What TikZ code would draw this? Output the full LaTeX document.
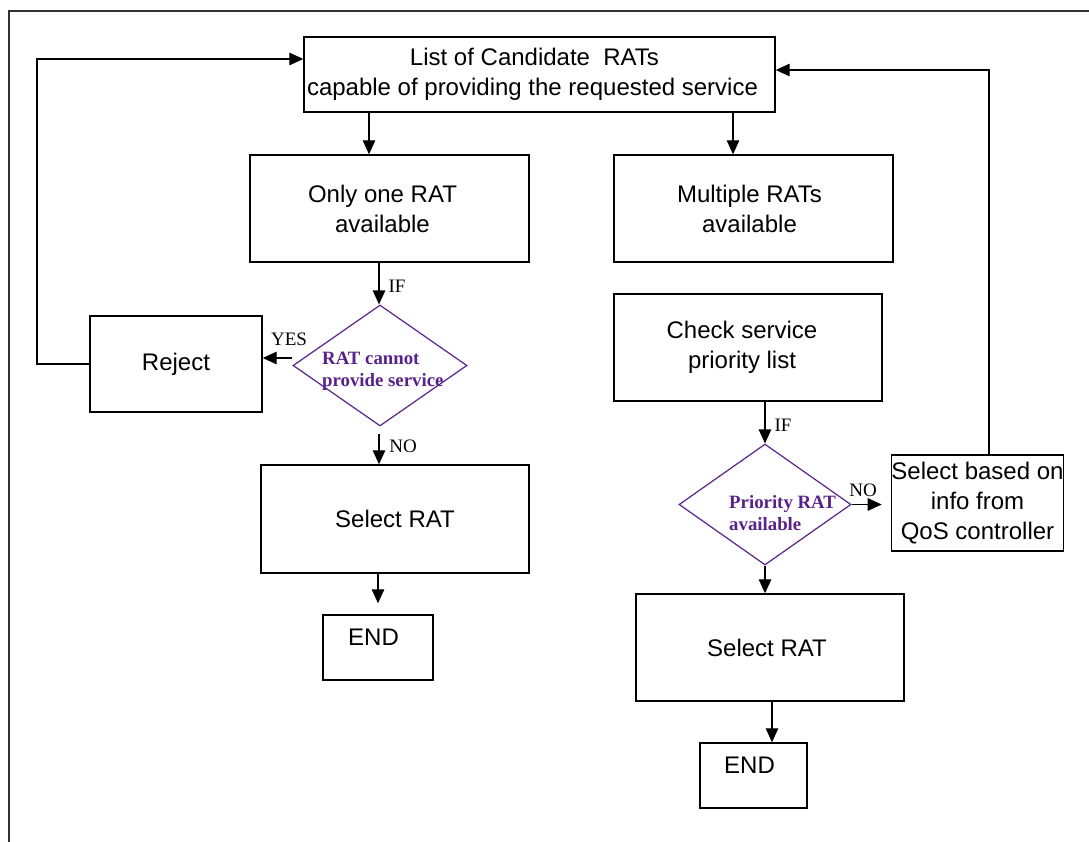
\documentclass[tikz,border=0pt]{standalone}
\usepackage{fontspec}
\setmainfont{Liberation Sans}
\newfontfamily\tms{Liberation Serif}
\usetikzlibrary{arrows.meta,shapes.geometric}
\definecolor{decpurple}{RGB}{88,34,138}
\definecolor{framegray}{RGB}{50,50,50}
\tikzset{
  box/.style={draw=black, line width=1.4pt, rectangle, inner sep=0pt, align=center,
              font=\fontsize{24}{30}\selectfont},
  endbox/.style={box, minimum width=#1, text height=30.7pt, text depth=34.3pt},
  dia/.style={draw=decpurple, line width=1.2pt, diamond, inner sep=0pt,
              minimum width=#1, minimum height=121pt},
  dtext/.style={text=decpurple, align=left, inner sep=0pt,
                font=\tms\bfseries\fontsize{18.8}{22}\selectfont},
  lbl/.style={inner sep=0pt, font=\tms\fontsize{19}{20}\selectfont},
  arr/.style={draw=black, line width=1.3pt, -{Triangle[length=14pt,width=12.5pt]}},
  link/.style={draw=black, line width=1.3pt}
}
\begin{document}
\begin{tikzpicture}[x=1pt,y=-1pt]
\useasboundingbox (0,0) rectangle (1089,842);

% outer frame
\draw[framegray, line width=1.5pt] (1089,11) -- (9,11) -- (9,842);

% process boxes
\node[box, minimum width=471pt, minimum height=75pt] (top) at (539.5,74.5)
  {List of Candidate\ \ RATs\hspace*{10pt}\\capable of providing the requested service\hspace*{14pt}};
\node[box, minimum width=279pt, minimum height=107pt] (one) at (389.5,208.5)
  {Only one RAT\hspace*{14pt}\\available\hspace*{14pt}};
\node[box, minimum width=279pt, minimum height=107pt] (multi) at (753.5,208.5)
  {Multiple RATs\hspace*{8pt}\\available\hspace*{8pt}};
\node[box, minimum width=172pt, minimum height=96pt] (reject) at (176,364) {Reject};
\node[box, minimum width=268pt, minimum height=108pt] (selA) at (395,519) {Select RAT};
\node[endbox=110pt] (endA) at (378,647.5) {END\hspace*{9pt}};
\node[box, minimum width=268pt, minimum height=107pt] (check) at (748,347.5)
  {Check service\hspace*{12pt}\\priority list\hspace*{12pt}};
\node[box, minimum width=171pt, minimum height=96pt] (qos) at (977.5,503)
  {Select based on\\info from\\QoS controller};
\node[box, minimum width=268pt, minimum height=107pt] (selB) at (770,647.5) {Select RAT\hspace*{6pt}};
\node[endbox=107pt] (endB) at (753.5,775.5) {END\hspace*{8pt}};

% decisions
\node[dia=174pt] (d1) at (380,365.5) {};
\node[dtext, anchor=west] (d1t) at (322,371) {RAT cannot\\provide service};
\node[dia=172pt] (d2) at (765,504.5) {};
\node[dtext, anchor=west] (d2t) at (729,513) {Priority RAT\\available};

% connectors, left branch
\draw[arr] (top.south -| 369,0) -- (one.north -| 369,0);
\draw[arr] (one.south -| 379,0) -- (d1.north -| 379,0);
\node[lbl] (ifA) at (397,286) {IF};
\draw[arr] (d1.west |- 0,358) -- (reject.east |- 0,358);
\node[lbl] (yes) at (289,339) {YES};
\draw[arr, shorten <=7pt] (d1.south -| 379,0) -- (selA.north -| 379,0);
\node[lbl] (noA) at (403,446) {NO};
\draw[arr, shorten >=11pt] (selA.south -| 378,0) -- (endA.north -| 378,0);
\draw[arr] (reject.west) -| (37,59) -- (top.west |- 0,59);

% connectors, right branch
\draw[arr] (top.south -| 733,0) -- (multi.north -| 733,0);
\draw[arr] (check.south -| 765,0) -- (d2.north);
\node[lbl] (ifB) at (783,425) {IF};
\draw[arr, shorten >=9pt] (d2.east) -- (qos.west |- d2.east);
\node[lbl] (noB) at (863,490) {NO};
\draw[arr] (qos.north -| 989,0) |- (top.east |- 0,70);
\draw[arr] (d2.south) -- (selB.north -| d2.south);
\draw[arr] (selB.south -| 772,0) -- (endB.north -| 772,0);
\end{tikzpicture}
\end{document}
